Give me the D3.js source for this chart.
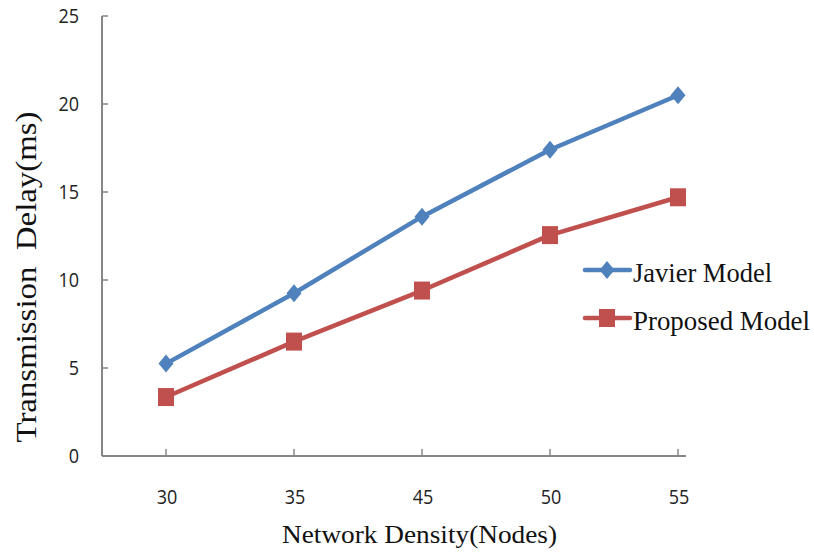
<!DOCTYPE html>
<html>
<head>
<meta charset="utf-8">
<script src="https://cdn.jsdelivr.net/npm/d3@7"></script>
<style>
  html, body { margin: 0; padding: 0; background: #fff; }
  svg { display: block; }
</style>
</head>
<body>
<svg id="chart" width="814" height="554"></svg>
<script>
// Network density categories (nodes) and transmission delay (ms) per model
const categories = ["30", "35", "45", "50", "55"];
const javierDelay = [5.25, 9.25, 13.6, 17.4, 20.5];
const proposedDelay = [3.35, 6.5, 9.4, 12.55, 14.7];
const yTicks = [0, 5, 10, 15, 20, 25];
const seriesNames = ["Javier Model", "Proposed Model"];

const svg = d3.select("#chart");
const axisColor = "#868686";
const blue = "#4F81BD";
const red = "#C0504D";
const sansFont = "'Open Sans', 'Noto Sans', sans-serif";
const serifFont = "'Liberation Serif', 'DejaVu Serif', serif";

const plotLeft = 102, plotRight = 686, plotTop = 16, plotBottom = 456;

const x = d3.scalePoint()
  .domain(categories)
  .range([166, 678]);

const y = d3.scaleLinear()
  .domain([0, 25])
  .range([plotBottom, plotTop]);

// Marker shapes: a tall diamond and a slightly tall square
const diamondPath = "M0,-9L7.5,0L0,9L-7.5,0Z";
const squarePath = "M-8,-9H8V9H-8Z";

// Tick labels are drawn narrow: fixed advance per digit
const digitWidth = 10.3;

// Y axis
const yAxis = svg.append("g").attr("transform", `translate(${plotLeft},0)`);
yAxis.append("line")
  .attr("x1", 0).attr("x2", 0)
  .attr("y1", plotTop).attr("y2", plotBottom)
  .attr("stroke", axisColor).attr("stroke-width", 2);
yAxis.selectAll("line.tick").data(yTicks).join("line")
  .attr("class", "tick")
  .attr("x1", 0).attr("x2", 6)
  .attr("y1", d => y(d)).attr("y2", d => y(d))
  .attr("stroke", axisColor).attr("stroke-width", 1.5);
yAxis.selectAll("text").data(yTicks).join("text")
  .attr("x", -23).attr("y", d => y(d) + 7)
  .attr("text-anchor", "end")
  .attr("font-family", sansFont)
  .attr("font-size", 20)
  .attr("fill", "#222")
  .attr("textLength", d => String(d).length * digitWidth)
  .attr("lengthAdjust", "spacingAndGlyphs")
  .text(d => d);

// X axis
const xAxis = svg.append("g").attr("transform", `translate(0,${plotBottom})`);
xAxis.append("line")
  .attr("x1", plotLeft).attr("x2", plotRight)
  .attr("y1", 0).attr("y2", 0)
  .attr("stroke", axisColor).attr("stroke-width", 2);
xAxis.selectAll("line.tick").data(categories).join("line")
  .attr("class", "tick")
  .attr("x1", d => x(d)).attr("x2", d => x(d))
  .attr("y1", 0).attr("y2", -7)
  .attr("stroke", axisColor).attr("stroke-width", 1.5);
xAxis.selectAll("text").data(categories).join("text")
  .attr("x", d => x(d) + 1).attr("y", 48)
  .attr("text-anchor", "middle")
  .attr("font-family", sansFont)
  .attr("font-size", 20)
  .attr("fill", "#222")
  .attr("textLength", d => d.length * digitWidth)
  .attr("lengthAdjust", "spacingAndGlyphs")
  .text(d => d);

// Axis titles
svg.append("text")
  .attr("x", 419.5).attr("y", 543)
  .attr("text-anchor", "middle")
  .attr("font-family", serifFont)
  .attr("font-size", 26)
  .attr("fill", "#111")
  .attr("textLength", 275)
  .attr("lengthAdjust", "spacingAndGlyphs")
  .text("Network Density(Nodes)");

svg.append("text")
  .attr("transform", "translate(36,277) rotate(-90)")
  .attr("text-anchor", "middle")
  .attr("font-family", serifFont)
  .attr("font-size", 30)
  .attr("fill", "#111")
  .attr("textLength", 331)
  .attr("lengthAdjust", "spacingAndGlyphs")
  .style("white-space", "pre")
  .text("Transmission  Delay(ms)");

// Series
const series = [
  { name: seriesNames[0], values: javierDelay, color: blue, marker: diamondPath, labelWidth: 139 },
  { name: seriesNames[1], values: proposedDelay, color: red, marker: squarePath, labelWidth: 177 }
];

const line = d3.line()
  .x((d, i) => x(categories[i]))
  .y(d => y(d));

series.forEach(s => {
  svg.append("path")
    .datum(s.values)
    .attr("d", line)
    .attr("fill", "none")
    .attr("stroke", s.color)
    .attr("stroke-width", 4.5)
    .attr("stroke-linejoin", "round");
  svg.selectAll(null).data(s.values).join("path")
    .attr("transform", (d, i) => `translate(${x(categories[i])},${y(d)})`)
    .attr("d", s.marker)
    .attr("fill", s.color);
});

// Legend
const legend = svg.append("g");
series.forEach((s, i) => {
  const ly = 270 + i * 48;
  legend.append("line")
    .attr("x1", 585).attr("x2", 630)
    .attr("y1", ly).attr("y2", ly)
    .attr("stroke", s.color).attr("stroke-width", 4.5)
    .attr("stroke-linecap", "round");
  legend.append("path")
    .attr("transform", `translate(607,${ly})`)
    .attr("d", s.marker)
    .attr("fill", s.color);
  legend.append("text")
    .attr("x", 633).attr("y", ly + 12)
    .attr("font-family", serifFont)
    .attr("font-size", 27)
    .attr("fill", "#111")
    .attr("textLength", s.labelWidth)
    .attr("lengthAdjust", "spacingAndGlyphs")
    .text(s.name);
});
</script>
</body>
</html>
